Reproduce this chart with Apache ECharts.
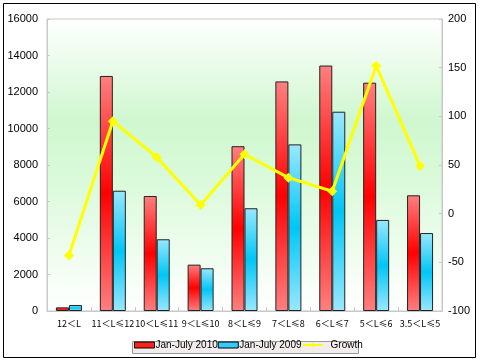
<!DOCTYPE html>
<html><head><meta charset="utf-8">
<script src="https://cdn.jsdelivr.net/npm/echarts@6/dist/echarts.min.js"></script>
<style>html,body{margin:0;padding:0;background:#fff}#c{width:480px;height:361px}</style>
</head><body><div id="c"></div>
<script>
var categories = ["12＜L","11＜L≤12","10＜L≤11","9＜L≤10","8＜L≤9","7＜L≤8","6＜L≤7","5＜L≤6","3.5＜L≤5"];
var sales2010 = [200, 12880, 6300, 2540, 9030, 12580, 13450, 12510, 6340];
var sales2009 = [330, 6590, 3930, 2340, 5630, 9130, 10920, 4990, 4270];
var growth = [-43, 95, 58, 9, 61, 37, 23, 152, 49];
var leftTicks = [0, 16000, 2000];
var rightTicks = [-100, 200, 50];

var chart = echarts.init(document.getElementById('c'));
function vgrad(a, b) {
  return new echarts.graphic.LinearGradient(0, 0, 0, 1, [
    {offset: 0, color: a}, {offset: 0.5, color: b}, {offset: 1, color: a}]);
}
var lab = {color: '#000', fontFamily: 'Arial, Liberation Sans', fontSize: 11};
chart.setOption({
  animation: false,
  backgroundColor: '#fff',
  graphic: [
    {type: 'rect', shape: {x: 3.5, y: 3.5, width: 472, height: 354}, style: {fill: 'none', stroke: '#000', lineWidth: 1}, z: 100},
    {type: 'rect', shape: {x: 132.5, y: 341.5, width: 226, height: 12}, style: {fill: '#f3ecec', stroke: '#999', lineWidth: 1}, z: -1}
  ],
  grid: {left: 47, right: 38, top: 19, bottom: 50, show: true, borderColor: '#c8c8c8', borderWidth: 1,
    backgroundColor: new echarts.graphic.LinearGradient(0, 0, 0, 1, [
      {offset: 0, color: '#ffffff'}, {offset: 0.35, color: '#cff7cf'}, {offset: 0.55, color: '#dafada'}, {offset: 1, color: '#ffffff'}])},
  legend: {
    left: 134, top: 340, padding: 0, itemGap: 0, itemWidth: 20, itemHeight: 6,
    textStyle: {fontFamily: 'Arial, Liberation Sans', fontSize: 10, color: '#000', padding: [0, 0, 0, -4]},
    data: [
      {name: 'Jan-July 2010', icon: 'rect', itemStyle: {color: '#ff2020', borderColor: '#000', borderWidth: 1}},
      {name: 'Jan-July 2009', icon: 'rect', itemStyle: {color: '#33ccff', borderColor: '#000', borderWidth: 1}},
      {name: 'Growth', textStyle: {padding: [0, 0, 0, 3]}}
    ]
  },
  xAxis: {
    type: 'category', data: categories,
    axisLine: {lineStyle: {color: '#c8c8c8'}},
    axisTick: {show: true, inside: true, length: 4, lineStyle: {color: '#c8c8c8'}},
    axisLabel: {color: '#000', fontSize: 9, fontFamily: 'Noto Sans CJK SC', interval: 0, margin: 8}
  },
  yAxis: [
    {type: 'value', min: leftTicks[0], max: leftTicks[1], interval: leftTicks[2],
      axisLine: {show: true, lineStyle: {color: '#c8c8c8'}},
      axisTick: {show: true, inside: true, length: 3, lineStyle: {color: '#c8c8c8'}},
      splitLine: {show: false}, axisLabel: Object.assign({margin: 9, formatter: function (v) { return String(v); }}, lab)},
    {type: 'value', min: rightTicks[0], max: rightTicks[1], interval: rightTicks[2],
      axisLine: {show: true, lineStyle: {color: '#c8c8c8'}},
      axisTick: {show: true, inside: true, length: 3, lineStyle: {color: '#c8c8c8'}},
      splitLine: {show: false}, axisLabel: Object.assign({margin: 6}, lab)}
  ],
  series: [
    {name: 'Jan-July 2010', type: 'bar', data: sales2010, barWidth: 13, barGap: '0%',
      itemStyle: {color: vgrad('#ff8080', '#ff0000'), borderColor: '#222', borderWidth: 1}},
    {name: 'Jan-July 2009', type: 'bar', data: sales2009, barWidth: 13,
      itemStyle: {color: vgrad('#9ae8ff', '#00c6f5'), borderColor: '#222', borderWidth: 1}},
    {name: 'Growth', type: 'line', yAxisIndex: 1, data: growth, symbol: 'diamond', symbolSize: 10,
      lineStyle: {color: '#ffff00', width: 3}, itemStyle: {color: '#ffff00'}, z: 5}
  ]
});
</script></body></html>
